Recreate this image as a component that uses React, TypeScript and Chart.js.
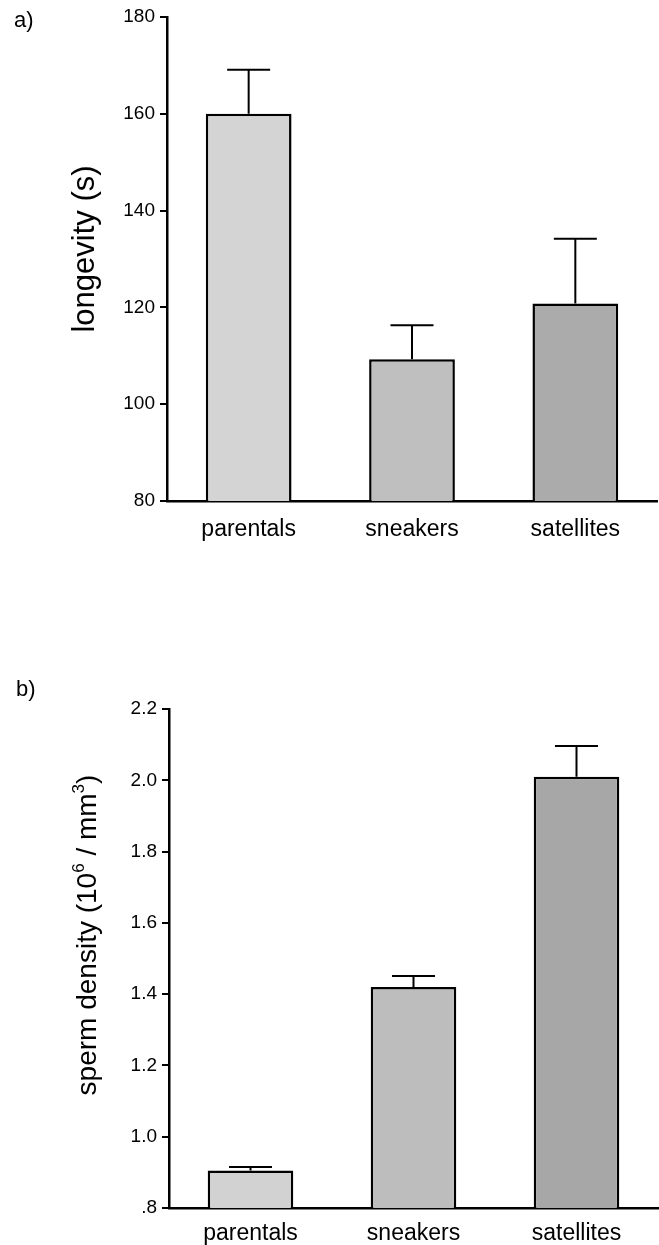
import React, { useEffect, useRef } from "react";
import { Chart, registerables } from "chart.js";

Chart.register(...registerables);

// ---------- data ----------
const categories = ["parentals", "sneakers", "satellites"];

const longevityMeans = [160.0, 109.3, 120.8];
const longevityErrors = [9.1, 7.0, 13.4];
const longevityTickValues = [80, 100, 120, 140, 160, 180];
const longevityTickLabels = ["80", "100", "120", "140", "160", "180"];

const densityMeans = [0.905, 1.42, 2.01];
const densityErrors = [0.01, 0.031, 0.086];
const densityTickValues = [0.8, 1.0, 1.2, 1.4, 1.6, 1.8, 2.0, 2.2];
const densityTickLabels = [".8", "1.0", "1.2", "1.4", "1.6", "1.8", "2.0", "2.2"];

// ---------- styling ----------
const FONT = "'Liberation Sans', Arial, Helvetica, sans-serif";

type Part = { text: string; sup?: boolean };

function makeTextPlugin(cfg: {
  panel: string;
  panelX: number;
  panelY: number;
  panelSize: number;
  title: Part[];
  titleX: number; // baseline x after rotation
  titleY: number; // center along text
  titleSize: number;
  supSize: number;
}) {
  return {
    id: "panelText",
    afterDraw(chart: any) {
      const ctx = chart.ctx as CanvasRenderingContext2D;
      ctx.save();
      ctx.fillStyle = "#000";
      ctx.textBaseline = "alphabetic";
      ctx.textAlign = "left";
      ctx.font = `${cfg.panelSize}px ${FONT}`;
      ctx.fillText(cfg.panel, cfg.panelX, cfg.panelY);

      // rotated axis title with superscripts
      const fontFor = (p: Part) => `${p.sup ? cfg.supSize : cfg.titleSize}px ${FONT}`;
      let total = 0;
      const widths = cfg.title.map((p) => {
        ctx.font = fontFor(p);
        const w = ctx.measureText(p.text).width;
        total += w;
        return w;
      });
      ctx.translate(cfg.titleX, cfg.titleY);
      ctx.rotate(-Math.PI / 2);
      let x = -total / 2;
      cfg.title.forEach((p, i) => {
        ctx.font = fontFor(p);
        const dy = p.sup ? -cfg.titleSize * 0.42 : 0;
        ctx.fillText(p.text, x, dy);
        x += widths[i];
      });
      ctx.restore();
    },
  };
}

function makeErrorPlugin(errors: number[]) {
  return {
    id: "errorBars",
    afterDatasetsDraw(chart: any) {
      const ctx = chart.ctx as CanvasRenderingContext2D;
      const yScale = chart.scales.y;
      const meta = chart.getDatasetMeta(0);
      const values = chart.data.datasets[0].data as number[];
      ctx.save();
      ctx.strokeStyle = "#000";
      ctx.lineWidth = 2;
      meta.data.forEach((bar: any, i: number) => {
        const top = yScale.getPixelForValue(values[i] + errors[i]);
        const half = 21.5;
        ctx.beginPath();
        ctx.moveTo(bar.x, bar.y);
        ctx.lineTo(bar.x, top);
        ctx.moveTo(bar.x - half, top);
        ctx.lineTo(bar.x + half, top);
        ctx.stroke();
      });
      ctx.restore();
    },
  };
}

function makeConfig(o: {
  means: number[];
  errors: number[];
  tickValues: number[];
  tickLabels: string[];
  min: number;
  max: number;
  colors: string[];
  padTop: number;
  padRight: number;
  yWidth: number;
  xHeight: number;
  xPad: number;
  text: any;
}): any {
  return {
    type: "bar",
    data: {
      labels: categories,
      datasets: [
        {
          data: o.means,
          backgroundColor: o.colors,
          borderColor: "#000",
          borderWidth: 2.5,
          borderSkipped: false,
          barPercentage: 0.525,
          categoryPercentage: 1,
        },
      ],
    },
    options: {
      responsive: false,
      animation: false,
      devicePixelRatio: 1,
      layout: { padding: { top: o.padTop, right: o.padRight, left: 0, bottom: 0 } },
      plugins: { legend: { display: false }, tooltip: { enabled: false } },
      scales: {
        x: {
          type: "category",
          afterFit: (s: any) => {
            s.height = o.xHeight;
          },
          grid: { display: false, drawTicks: false },
          border: { display: true, color: "#000", width: 2.5 },
          ticks: {
            color: "#000",
            font: { family: FONT, size: 23 },
            padding: o.xPad,
            maxRotation: 0,
            autoSkip: false,
          },
        },
        y: {
          type: "linear",
          min: o.min,
          max: o.max,
          afterBuildTicks: (s: any) => {
            s.ticks = o.tickValues.map((v) => ({ value: v }));
          },
          afterFit: (s: any) => {
            s.width = o.yWidth;
          },
          grid: {
            drawOnChartArea: false,
            drawTicks: true,
            tickLength: 7,
            color: "#000",
            lineWidth: 2,
          },
          border: { display: true, color: "#000", width: 2.5 },
          ticks: {
            color: "#000",
            font: { family: FONT, size: 19 },
            padding: 5,
            autoSkip: false,
            callback: (_v: any, i: number) => o.tickLabels[i],
          },
        },
      },
    },
    plugins: [makeErrorPlugin(o.errors), makeTextPlugin(o.text)],
  };
}

export default function App() {
  const topRef = useRef<HTMLCanvasElement>(null);
  const botRef = useRef<HTMLCanvasElement>(null);

  useEffect(() => {
    const top = new Chart(
      topRef.current!,
      makeConfig({
        means: longevityMeans,
        errors: longevityErrors,
        tickValues: longevityTickValues,
        tickLabels: longevityTickLabels,
        min: 80,
        max: 180,
        colors: ["#d4d4d4", "#bfbfbf", "#ababab"],
        padTop: 17,
        padRight: 2,
        yWidth: 167,
        xHeight: 99,
        xPad: 15,
        text: {
          panel: "a)",
          panelX: 14,
          panelY: 27,
          panelSize: 22,
          title: [{ text: "longevity (s)" }],
          titleX: 94,
          titleY: 249,
          titleSize: 31,
          supSize: 18,
        },
      })
    );
    const bot = new Chart(
      botRef.current!,
      makeConfig({
        means: densityMeans,
        errors: densityErrors,
        tickValues: densityTickValues,
        tickLabels: densityTickLabels,
        min: 0.8,
        max: 2.2,
        colors: ["#d2d2d2", "#bdbdbd", "#a7a7a7"],
        padTop: 109,
        padRight: 1,
        yWidth: 169,
        xHeight: 37,
        xPad: 12,
        text: {
          panel: "b)",
          panelX: 16,
          panelY: 96,
          panelSize: 22,
          title: [
            { text: "sperm density (10" },
            { text: "6", sup: true },
            { text: " / mm" },
            { text: "3", sup: true },
            { text: ")" },
          ],
          titleX: 96,
          titleY: 335,
          titleSize: 28,
          supSize: 17,
        },
      })
    );
    return () => {
      top.destroy();
      bot.destroy();
    };
  }, []);

  return (
    <div style={{ position: "absolute", left: 0, top: 0, width: 659, height: 1245, background: "#fff" }}>
      <canvas ref={topRef} width={659} height={600} style={{ position: "absolute", left: 0, top: 0 }} />
      <canvas ref={botRef} width={659} height={645} style={{ position: "absolute", left: 0, top: 600 }} />
    </div>
  );
}
